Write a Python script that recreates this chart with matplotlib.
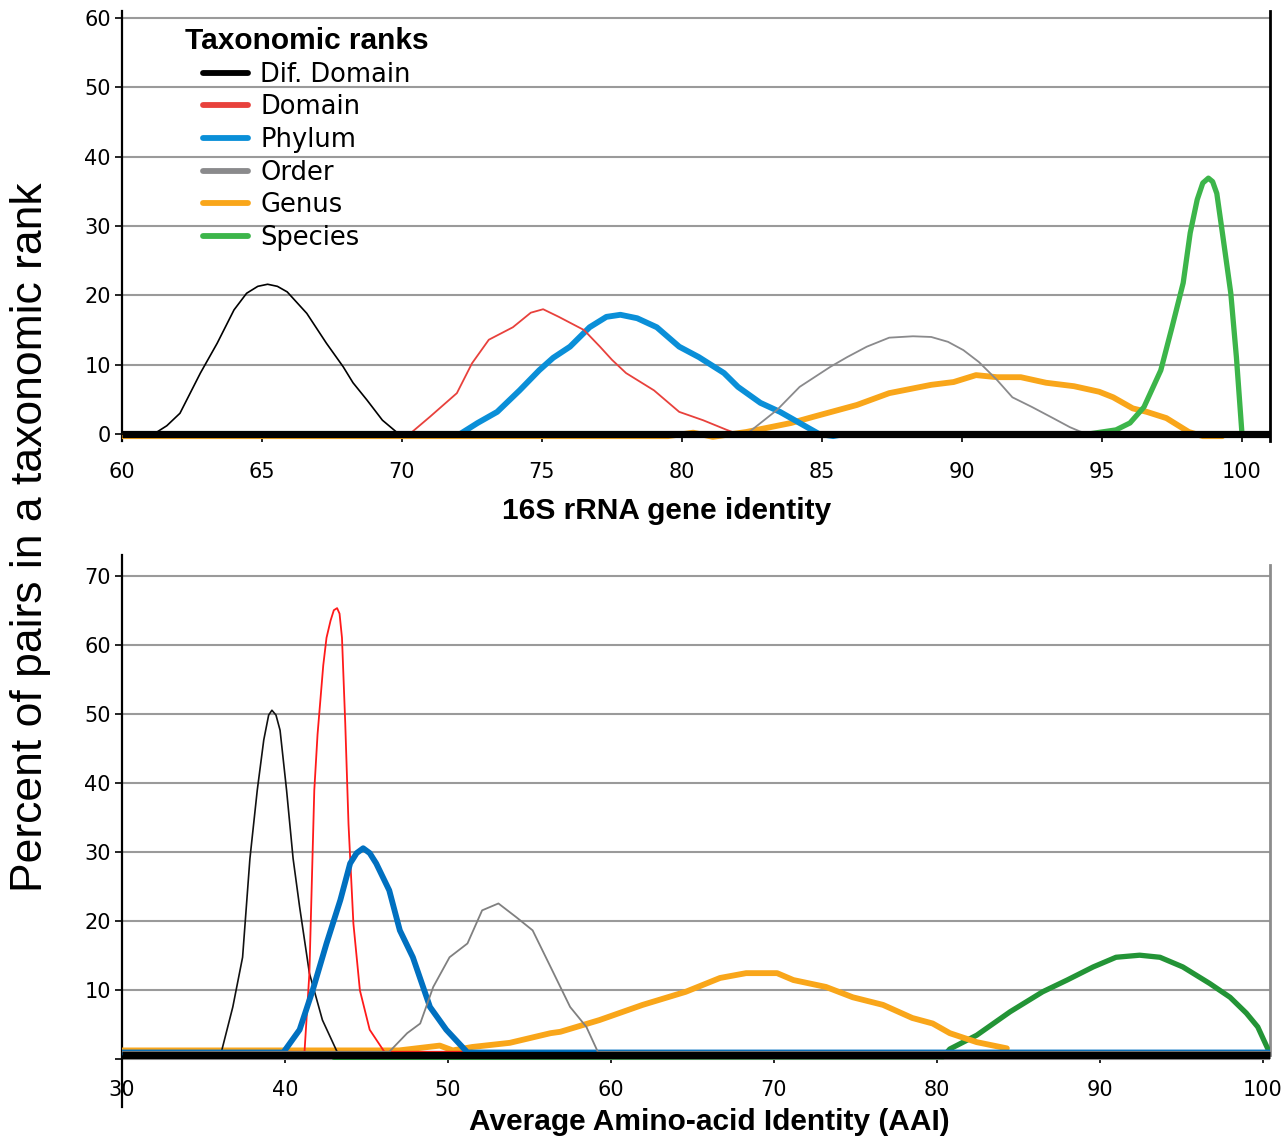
import numpy as np
import matplotlib.pyplot as plt
from matplotlib.lines import Line2D

# ---- 16S rRNA gene identity (top panel) ----
top_difdomain_x = [60, 61.0, 61.25, 61.6, 62.07, 62.8, 63.4, 64.0, 64.45, 64.85, 65.2, 65.55, 65.9,
                   66.6, 67.3, 67.9, 68.25, 68.75, 69.3, 69.8, 70.0, 101]
top_difdomain_y = [0, 0, 0.3, 1.2, 3.0, 8.8, 13.1, 17.9, 20.3, 21.3, 21.6, 21.3, 20.5,
                   17.4, 13.1, 9.7, 7.4, 4.9, 2.0, 0.3, 0, 0]

top_domain_x = [70.3, 71.0, 71.96, 72.5, 73.1, 73.96, 74.6, 75.04, 75.6, 76.5, 77.07, 77.5, 78.0,
                79.0, 79.9, 80.75, 81.6, 82.0]
top_domain_y = [0.1, 2.5, 5.9, 10.2, 13.6, 15.4, 17.5, 18.0, 16.9, 15.0, 12.6, 10.7, 8.8,
                6.3, 3.2, 2.0, 0.6, 0]

top_phylum_x = [72.07, 72.7, 73.4, 74.2, 74.9, 75.4, 76.0, 76.7, 77.3, 77.8, 78.4, 79.1, 79.9,
                80.6, 81.5, 82.0, 82.8, 83.5, 84.2, 84.9, 85.4, 85.8]
top_phylum_y = [0, 1.6, 3.2, 6.3, 9.2, 11.0, 12.6, 15.4, 16.9, 17.2, 16.7, 15.4, 12.6,
                11.1, 8.8, 6.8, 4.5, 3.2, 1.6, 0, -0.3, 0]

top_order_x = [82.4, 83.4, 84.2, 85.3, 85.9, 86.6, 87.4, 88.25, 88.9, 89.5, 90.05, 90.6, 91.25,
               91.8, 92.5, 93.25, 93.85, 94.2, 94.5]
top_order_y = [0.3, 3.5, 6.8, 9.7, 11.1, 12.6, 13.9, 14.1, 14.0, 13.3, 12.1, 10.4, 7.8,
               5.3, 3.9, 2.3, 1.0, 0.4, 0]

top_genus_x = [60, 79.5, 80.4, 81.1, 82.3, 83.9, 84.7, 86.25, 87.4, 88.9, 89.7, 90.5, 91.25,
               92.1, 93.0, 94.0, 94.9, 95.4, 96.1, 96.6, 97.3, 98.1, 98.6, 99.3]
top_genus_y = [-0.3, -0.3, 0.2, -0.4, 0.3, 1.6, 2.5, 4.2, 5.9, 7.1, 7.5, 8.5, 8.2,
               8.2, 7.4, 6.9, 6.1, 5.3, 3.7, 3.2, 2.3, 0.3, -0.3, -0.3]

top_species_x = [94.5, 95.5, 96.0, 96.5, 97.1, 97.5, 97.9, 98.15, 98.4, 98.6, 98.8, 98.95, 99.1,
                 99.3, 99.6, 99.8, 100.0]
top_species_y = [0, 0.6, 1.6, 3.9, 9.2, 15.4, 21.8, 29.0, 33.8, 36.2, 36.9, 36.4, 34.7,
                 29.0, 20.3, 11.1, 0.0]

# ---- AAI (bottom panel) ----
bot_difdomain_x = [30, 36.1, 36.8, 37.4, 37.85, 38.3, 38.7, 39.0, 39.2, 39.45, 39.7, 40.1, 40.5,
                   40.9, 41.5, 42.3, 43.2, 100.4]
bot_difdomain_y = [1.0, 1.0, 7.5, 14.7, 29.0, 38.9, 46.2, 49.8, 50.5, 49.8, 47.6, 38.9, 29.0,
                   22.0, 12.4, 5.6, 1.0, 1.0]

bot_domain_x = [30, 41.2, 41.5, 41.8, 42.0, 42.35, 42.55, 42.8, 43.0, 43.2, 43.35, 43.5, 43.7,
                43.9, 44.2, 44.6, 45.2, 46.1, 100.4]
bot_domain_y = [1.0, 1.0, 12.4, 38.9, 47.0, 57.0, 61.0, 63.5, 65.0, 65.3, 64.5, 61.0, 48.6,
                34.0, 19.6, 9.9, 4.2, 1.0, 1.0]

bot_phylum_x = [30, 39.9, 40.9, 41.7, 42.55, 43.4, 44.0, 44.4, 44.8, 45.2, 45.6, 46.4, 47.05,
                47.85, 48.9, 49.9, 51.2, 100.4]
bot_phylum_y = [0.9, 0.9, 4.2, 9.9, 16.7, 23.0, 28.3, 29.8, 30.5, 29.8, 28.3, 24.4, 18.6,
                14.7, 7.5, 4.2, 0.9, 0.9]

bot_order_x = [30, 46.4, 47.5, 48.3, 49.1, 50.1, 51.2, 52.1, 53.1, 54.2, 55.2, 56.3, 57.5,
               58.5, 59.2, 100.4]
bot_order_y = [1.0, 1.0, 3.7, 5.1, 10.4, 14.7, 16.7, 21.5, 22.5, 20.5, 18.6, 13.3, 7.5,
               4.6, 1.0, 1.0]

bot_genus_x = [30, 47.0, 49.5, 50.3, 51.5, 53.8, 56.3, 56.9, 59.3, 61.95, 64.6, 66.7, 68.3,
               70.2, 71.2, 73.2, 74.85, 76.7, 78.5, 79.75, 80.8, 82.45, 84.3]
bot_genus_y = [1.2, 1.2, 1.9, 1.2, 1.7, 2.3, 3.7, 3.9, 5.6, 7.8, 9.7, 11.7, 12.4,
               12.4, 11.4, 10.4, 8.9, 7.8, 5.9, 5.1, 3.7, 2.4, 1.5]

bot_species_x = [43.0, 80.4, 80.8, 82.45, 84.5, 86.5, 88.0, 89.6, 91.0, 92.45, 93.7, 95.1, 96.75,
                 98.0, 99.0, 99.7, 100.4]
bot_species_y = [0.2, 0.3, 1.4, 3.4, 6.8, 9.7, 11.4, 13.3, 14.7, 15.0, 14.7, 13.3, 10.9,
                 8.9, 6.6, 4.6, 1.0]

ranks = ["Dif. Domain", "Domain", "Phylum", "Order", "Genus", "Species"]
legend_colors = ["#000000", "#e8413c", "#0a8fd8", "#8a8a8c", "#f9a61a", "#3cb54a"]

W, H = 1286, 1138
fig = plt.figure(figsize=(W / 100, H / 100), dpi=100)

bold_font = dict(family="Liberation Sans", weight="bold", size=21.5)
thick = dict(solid_capstyle="round", solid_joinstyle="round")


def style_axes(ax, right_color):
    ax.spines["top"].set_visible(False)
    ax.spines["right"].set_color(right_color)
    ax.spines["right"].set_linewidth(2)
    ax.spines["left"].set_linewidth(1.6)
    ax.spines["bottom"].set_linewidth(5.2)
    ax.spines["bottom"].set_zorder(5)
    ax.spines["bottom"].set_capstyle("butt")
    ax.grid(axis="y", color="#9a9a9a", linewidth=1.5)
    ax.set_axisbelow(True)
    ax.tick_params(axis="y", direction="out", length=5, width=1.2, pad=3, labelsize=15)
    ax.tick_params(axis="x", direction="out", length=6, width=1.2, pad=14, labelsize=15)
    for lab in ax.get_xticklabels() + ax.get_yticklabels():
        lab.set_family("DejaVu Sans")


# top panel
ax1 = fig.add_axes([122 / W, 1 - 441 / H, 1148 / W, (441 - 11) / H])
ax1.plot(top_genus_x, top_genus_y, color="#f9a61a", lw=4.2, zorder=3, **thick)
ax1.plot(top_difdomain_x, top_difdomain_y, color="#000000", lw=1.2, zorder=4, **thick)
ax1.plot(top_domain_x, top_domain_y, color="#e8413c", lw=1.3, zorder=4, **thick)
ax1.plot(top_phylum_x, top_phylum_y, color="#0a8fd8", lw=4.2, zorder=3, **thick)
ax1.plot(top_order_x, top_order_y, color="#8a8a8c", lw=1.3, zorder=4, **thick)
ax1.plot(top_species_x, top_species_y, color="#3cb54a", lw=3.8, zorder=3, **thick)
ax1.set_xlim(60, 101)
ax1.set_ylim(-1, 61)
ax1.spines["bottom"].set_position(("data", 0))
ax1.set_xticks(np.arange(60, 101, 5))
ax1.set_yticks(np.arange(0, 61, 10))
style_axes(ax1, "#000000")

# bottom panel
ax2 = fig.add_axes([122 / W, 1 - 1107 / H, 1148 / W, (1107 - 555) / H])
ax2.plot(bot_species_x, bot_species_y, color="#239436", lw=3.8, zorder=3, **thick)
ax2.plot(bot_genus_x, bot_genus_y, color="#f9a61a", lw=4.2, zorder=3, **thick)
ax2.plot(bot_difdomain_x, bot_difdomain_y, color="#111111", lw=1.2, zorder=4, **thick)
ax2.plot(bot_domain_x, bot_domain_y, color="#ff1a1a", lw=1.3, zorder=4, **thick)
ax2.plot(bot_phylum_x, bot_phylum_y, color="#0070c0", lw=4.2, zorder=4, **thick)
ax2.plot(bot_order_x, bot_order_y, color="#808080", lw=1.3, zorder=4, **thick)
ax2.set_xlim(30, 100.45)
ax2.set_ylim(-7, 73)
ax2.spines["bottom"].set_position(("data", 0.6))
ax2.spines["right"].set_bounds(0.6, 71.5)
ax2.set_xticks(np.arange(30, 101, 10))
ax2.set_yticks(np.arange(0, 71, 10))
ax2.set_yticklabels([""] + [str(v) for v in range(10, 71, 10)])
style_axes(ax2, "#8c8c8c")
ax2.tick_params(axis="x", pad=12)

# labels
fig.text(667 / W, 1 - 511 / H, "16S rRNA gene identity", ha="center", va="center", **bold_font)
fig.text(709 / W, 1 - 1122 / H, "Average Amino-acid Identity (AAI)", ha="center", va="center",
         **bold_font)
fig.text(31 / W, 1 - 537 / H, "Percent of pairs in a taxonomic rank", rotation=90,
         ha="center", va="center", family="Liberation Sans", size=32)

# legend
handles = [Line2D([], [], color=c, lw=4.2, solid_capstyle="round") for c in legend_colors]
leg = fig.legend(handles, ranks, loc="upper left", bbox_to_anchor=(185 / W, 1 - 27 / H),
                 frameon=False, borderpad=0, borderaxespad=0, handlelength=1.75,
                 handletextpad=0.47, labelspacing=0.26, prop=dict(family="DejaVu Sans", size=18.5),
                 title="Taxonomic ranks",
                 title_fontproperties=dict(family="Liberation Sans", weight="bold", size=21.5))

fig.savefig("out.png", dpi=100)
